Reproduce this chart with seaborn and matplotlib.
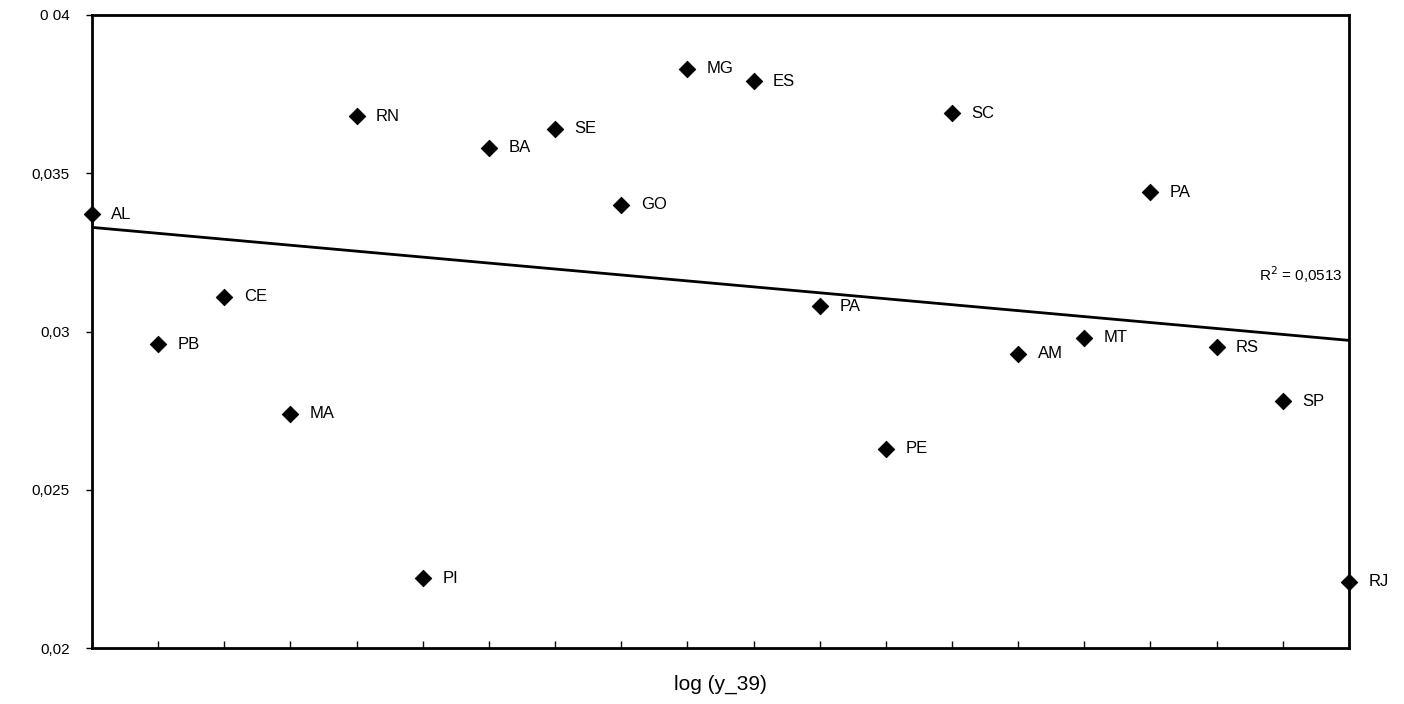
import numpy as np
import pandas as pd
import matplotlib
matplotlib.use("Agg")
import matplotlib.pyplot as plt
import seaborn as sns

sns.set_theme(style="white")
plt.rcParams['font.family'] = ['Liberation Sans', 'DejaVu Sans']
plt.rcParams['text.color'] = 'black'
plt.rcParams['axes.labelcolor'] = 'black'
plt.rcParams['xtick.color'] = 'black'
plt.rcParams['ytick.color'] = 'black'

# states ordered by log(y_39)
states = ["AL", "PB", "CE", "MA", "RN", "PI", "BA", "SE", "GO", "MG",
          "ES", "PA", "PE", "SC", "AM", "MT", "PA", "RS", "SP", "RJ"]
growth = [0.0337, 0.0296, 0.0311, 0.0274, 0.0368, 0.0222, 0.0358, 0.0364, 0.0340, 0.0383,
          0.0379, 0.0308, 0.0263, 0.0369, 0.0293, 0.0298, 0.0344, 0.0295, 0.0278, 0.0221]
y_ticks = [0.02, 0.025, 0.03, 0.035, 0.04]
y_labels = ["0,02", "0,025", "0,03", "0,035", "0 04"]
r2_text = "R$^2$ = 0,0513"

df = pd.DataFrame({"pos": np.arange(len(states)), "state": states, "growth": growth})

fig = plt.figure(figsize=(14.04, 7.04), dpi=100)
ax = fig.add_axes([0.0655, 0.0795, 0.8953, 0.8992])

sns.scatterplot(data=df, x="pos", y="growth", marker="D", s=70, color="black",
                edgecolor="black", ax=ax, zorder=3, clip_on=False)

# linear trend line
slope, intercept = np.polyfit(df["pos"], df["growth"], 1)
xs = np.array([df["pos"].min(), df["pos"].max()])
ax.plot(xs, slope * xs + intercept, color="black", lw=2, zorder=2)

for _, row in df.iterrows():
    ax.annotate(row["state"], (row["pos"], row["growth"]), xytext=(14, 0),
                textcoords="offset points", va="center", ha="left", fontsize=12)

ax.text(18.9, 0.0318, r2_text, ha="right", va="center", fontsize=11)

ax.set_xlim(0, len(states) - 1)
ax.set_ylim(0.02, 0.04)
ax.set_yticks(y_ticks)
ax.set_yticklabels(y_labels, fontsize=11)
ax.set_xticks(np.arange(len(states)))
ax.set_xticklabels([])
ax.tick_params(axis="x", bottom=True, direction="in", length=5, width=1)
ax.tick_params(axis="y", left=True, direction="out", length=4, width=1, pad=12)
ax.set_xlabel("log (y_39)", fontsize=15, labelpad=16)
ax.set_ylabel("")

for sp in ax.spines.values():
    sp.set_color("black")
    sp.set_linewidth(2)

fig.savefig("out.png", dpi=100)
